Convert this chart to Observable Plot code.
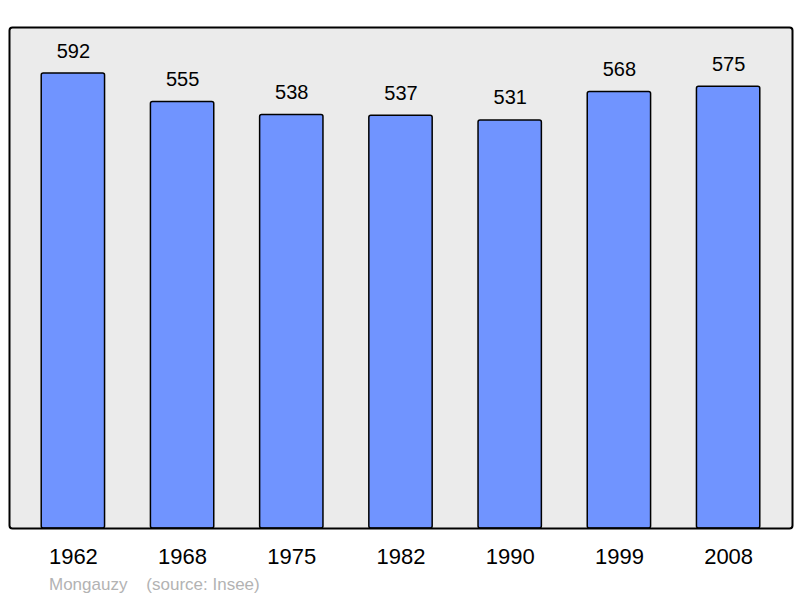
<!DOCTYPE html>
<html>
<head>
<meta charset="utf-8">
<script src="https://cdn.jsdelivr.net/npm/d3@7"></script>
<script src="https://cdn.jsdelivr.net/npm/@observablehq/plot@0.6"></script>
<style>
  html, body { margin: 0; padding: 0; background: #fff; }
  #wrap { position: relative; width: 800px; height: 598px; }
  #caption { position: absolute; left: 49px; top: 575px; font: 17px "Liberation Sans", Arial, sans-serif; line-height: 20px; color: #b3b3b3; white-space: pre; }
</style>
</head>
<body>
<div id="wrap"><div id="chart"></div><div id="caption">Mongauzy    (source: Insee)</div></div>
<script>
const years = ["1962", "1968", "1975", "1982", "1990", "1999", "2008"];
const population = [592, 555, 538, 537, 531, 568, 575];

const data = years.map((y, i) => ({year: y, pop: population[i]}));

const chart = Plot.plot({
  width: 800,
  height: 598,
  marginTop: 27,
  marginBottom: 70,
  marginLeft: 9,
  marginRight: 8,
  style: {fontFamily: '"Liberation Sans", Arial, sans-serif', background: "#fff"},
  x: {domain: years, paddingInner: 0.42, paddingOuter: 0.295, round: false, label: null},
  y: {domain: [0, 652], axis: null},
  marks: [
    Plot.frame({fill: "#ebebeb", stroke: "none", rx: 3}),
    Plot.barY(data, {x: "year", y: "pop", fill: "#7094ff", stroke: "#000", strokeWidth: 1.5, rx: 2}),
    Plot.frame({stroke: "#000", strokeWidth: 2, rx: 3}),
    Plot.text(data, {x: "year", y: "pop", text: d => String(d.pop), lineAnchor: "bottom", dy: -16, fontSize: 20, fill: "#000"}),
    Plot.axisX({tickSize: 0, tickPadding: 20, fontSize: 22, fill: "#000", label: null})
  ]
});
document.getElementById("chart").appendChild(chart);
</script>
</body>
</html>
